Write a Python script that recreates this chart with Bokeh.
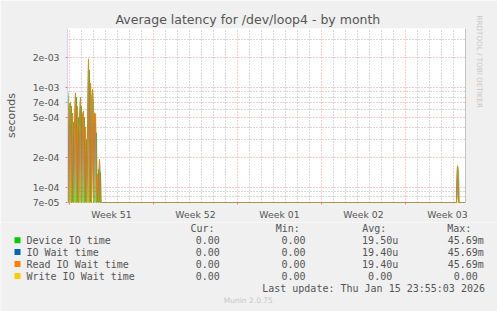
import math
import numpy as np
from bokeh.plotting import figure
from bokeh.layouts import column
from bokeh.models import (Range1d, FixedTicker, CustomJSTickFormatter, Span, Title,
                          ColumnDataSource)
from bokeh.core.properties import value
from bokeh.embed import file_html
from bokeh.resources import INLINE

# ---------------- data ----------------
# one sample every 2 hours; hour 0 = start of the "Week 51" grid line
sample_start_hour = -4
sample_step_hours = 2
sample_count = 399          # up to hour 792 (end of window)

# burst at the start of the window (hours -4 .. 64)
burst_start_hour = -4
burst_device = [9.3e-4, 8.0e-4, 0, 0, 6.5e-4, 0, 4.5e-4, 0, 0, 8.0e-4, 0, 5.0e-4, 0, 0,
                6.5e-4, 0, 0, 5.0e-4, 0, 3.0e-4, 0, 0, 1.5e-3, 0, 8.0e-4, 9.6e-4,
                7.0e-4, 0, 0, 3.5e-4, 0, 1.5e-4, 0, 1.4e-4, 0]
burst_iowait = [9.3e-4, 0, 6.5e-4, 7.0e-4, 0, 5.5e-4, 0, 3.5e-4, 8.8e-4, 0, 6.5e-4, 0,
                4.0e-4, 7.9e-4, 0, 5.0e-4, 5.8e-4, 0, 4.0e-4, 0, 2.5e-4, 1.93e-3, 0,
                1.1e-3, 0, 9.4e-4, 0, 5.5e-4, 5.4e-4, 0, 1.34e-4, 0, 1.9e-4, 0, 0]
burst_read = [9.3e-4, 0, 6.5e-4, 7.0e-4, 0, 5.5e-4, 0, 3.5e-4, 8.8e-4, 0, 6.5e-4, 0,
              4.0e-4, 7.9e-4, 0, 5.0e-4, 5.8e-4, 0, 4.0e-4, 0, 2.5e-4, 1.93e-3, 0,
              1.1e-3, 0, 9.4e-4, 0, 5.5e-4, 5.4e-4, 0, 1.34e-4, 0, 1.9e-4, 0, 0]

# small burst in week 03
late_start_hour = 776
late_device = [1.63e-4, 1.5e-4]
late_iowait = [1.63e-4, 0]
late_read = [1.63e-4, 0]

series_names = ["Device IO time", "IO Wait time", "Read IO Wait time", "Write IO Wait time"]
series_colors = ["#00CC00", "#0066B3", "#FF8000", "#FFCC00"]
cur_vals = ["0.00", "0.00", "0.00", "0.00"]
min_vals = ["0.00", "0.00", "0.00", "0.00"]
avg_vals = ["19.50u", "19.40u", "19.40u", "0.00"]
max_vals = ["45.69m", "45.69m", "45.69m", "0.00"]

week_labels = ["Week 51", "Week 52", "Week 01", "Week 02", "Week 03"]
week_starts = [0, 7, 14, 21, 28]        # days
y_major = [7e-5, 1e-4, 2e-4, 5e-4, 7e-4, 1e-3, 2e-3]
y_minor = [8e-5, 9e-5, 3e-4, 4e-4, 6e-4, 8e-4, 9e-4, 3e-3]

title_text = "Average latency for /dev/loop4 - by month"
last_update = "Last update: Thu Jan 15 23:55:03 2026"
munin_ver = "Munin 2.0.75"
side_text = "RRDTOOL / TOBI OETIKER"

# ---------------- build series ----------------
hours = sample_start_hour + sample_step_hours * np.arange(sample_count)
days = hours / 24.0

def build(burst, late):
    v = np.zeros(sample_count)
    i0 = (burst_start_hour - sample_start_hour) // sample_step_hours
    v[i0:i0 + len(burst)] = burst
    i1 = (late_start_hour - sample_start_hour) // sample_step_hours
    v[i1:i1 + len(late)] = late
    return v

device = build(burst_device, late_device)
iowait = build(burst_iowait, late_iowait)
read = build(burst_read, late_read)
write = np.zeros(sample_count)

XMIN, XMAX = days[0], days[-1]
YMIN, YMAX = 7e-5, 3.9e-3

FL, FR, FT, FB = 67, 465, 28, 202
TEXT = "#555555"

p = figure(width=497, height=222, x_range=Range1d(XMIN, XMAX), y_range=Range1d(YMIN, YMAX),
           y_axis_type="log", toolbar_location=None, output_backend="svg",
           min_border_left=FL, min_border_right=497 - FR, min_border_top=FT,
           min_border_bottom=222 - FB)
p.background_fill_color = "white"
p.border_fill_color = "#F0F0F0"
p.outline_line_color = None

# title above the frame
p.title.text = title_text
p.title.align = "left"
p.title.offset = 48
p.title.standoff = 3
p.title.text_font = "DejaVu Sans"
p.title.text_font_size = "12.5px"
p.title.text_font_style = "normal"
p.title.text_color = TEXT

# vertical credit text in the right margin
p.add_layout(Title(text=side_text, align="left", offset=-13, standoff=18,
                   text_font="DejaVu Sans", text_font_size="7.2px",
                   text_font_style="normal", text_color="#C8C8C8"), "right")

# grids
p.xgrid.ticker = FixedTicker(ticks=week_starts,
                             minor_ticks=[d for d in range(1, 33) if d % 7 != 0])
p.ygrid.ticker = FixedTicker(ticks=y_major, minor_ticks=y_minor)
for g in (p.xgrid, p.ygrid):
    g.grid_line_color = "#FF0000"
    g.grid_line_alpha = 0.4
    g.grid_line_dash = "1 2"
    g.minor_grid_line_color = "#B0B0B0"
    g.minor_grid_line_dash = "1 2"

# x axis
centers = [d + 3.5 for d in week_starts]
p.xaxis.ticker = FixedTicker(ticks=centers, minor_ticks=week_starts)
p.xaxis.major_label_overrides = {c: l for c, l in zip(centers, week_labels)}
p.xaxis.axis_line_color = None
p.xaxis.major_tick_line_color = None
p.xaxis.major_tick_out = 0
p.xaxis.major_tick_in = 0
p.xaxis.minor_tick_line_color = "#F08080"
p.xaxis.minor_tick_out = 2
p.xaxis.minor_tick_in = 0
p.xaxis.major_label_standoff = 4

# y axis
p.yaxis.ticker = FixedTicker(ticks=y_major, minor_ticks=[])
p.yaxis.formatter = CustomJSTickFormatter(code="""
const s = tick.toExponential(0).split('e');
let e = parseInt(s[1]);
const sign = e < 0 ? '-' : '+';
e = Math.abs(e);
return s[0] + 'e' + sign + (e < 10 ? '0' + e : '' + e);
""")
p.yaxis.axis_line_color = "#CFD6F8"
p.yaxis.major_tick_line_color = "#F08080"
p.yaxis.major_tick_out = 2
p.yaxis.major_tick_in = 0
p.yaxis.minor_tick_line_color = None
p.yaxis.major_label_standoff = 6
p.yaxis.axis_label = "seconds"
p.yaxis.axis_label_text_font = "DejaVu Sans"
p.yaxis.axis_label_text_font_size = "11px"
p.yaxis.axis_label_text_font_style = "normal"
p.yaxis.axis_label_text_color = TEXT
p.yaxis.axis_label_standoff = 12
for ax in (p.xaxis, p.yaxis):
    ax.major_label_text_font = "DejaVu Sans"
    ax.major_label_text_font_size = "9.3px"
    ax.major_label_text_color = TEXT

# lines (zero values rest on the bottom edge of the log axis)
src = ColumnDataSource(dict(
    x=days,
    device=np.maximum(device, YMIN),
    iowait=np.maximum(iowait, YMIN),
    read=np.maximum(read, YMIN),
    write=np.maximum(write, YMIN),
))
p.line("x", "write", source=src, line_color=series_colors[3], line_width=1)
p.line("x", "device", source=src, line_color=series_colors[0], line_width=1, line_alpha=0.6)
p.line("x", "iowait", source=src, line_color=series_colors[1], line_width=1)
p.line("x", "read", source=src, line_color=series_colors[2], line_width=1)

p.add_layout(Span(location=XMAX, dimension="height", line_color="#8A8A8A", line_width=1))

# ---------------- legend panel ----------------
q = figure(width=497, height=89, x_range=Range1d(0, 497), y_range=Range1d(311, 222),
           toolbar_location=None, output_backend="svg", min_border=0,
           x_axis_location=None, y_axis_location=None)
q.grid.visible = False
q.outline_line_color = None
q.background_fill_color = "#F0F0F0"
q.border_fill_color = "#F0F0F0"

tf = value("DejaVu Sans Mono")
row_y = [239.7, 251.6, 263.6, 275.6]
hdr_y = 228.3

q.rect(x=[17] * 4, y=row_y, width=6, height=6, fill_color=series_colors, line_color=None)
q.text(x=[26] * 4, y=row_y, text=series_names, text_font=tf, text_font_size="10px",
       text_color=TEXT, text_baseline="middle", text_align="left")
q.text(x=[190, 275.3, 361.7, 446.7], y=[hdr_y] * 4, text=["Cur:", "Min:", "Avg:", "Max:"],
       text_font=tf, text_font_size="10px", text_color=TEXT, text_baseline="middle",
       text_align="left")

def col_right(vals, right):
    return [right if v[-1].isalpha() else right - 6 for v in vals]

q.text(x=[219.3] * 4, y=row_y, text=cur_vals, text_font=tf, text_font_size="10px",
       text_color=TEXT, text_baseline="middle", text_align="right")
q.text(x=[305] * 4, y=row_y, text=min_vals, text_font=tf, text_font_size="10px",
       text_color=TEXT, text_baseline="middle", text_align="right")
q.text(x=col_right(avg_vals, 397.7), y=row_y, text=avg_vals, text_font=tf,
       text_font_size="10px", text_color=TEXT, text_baseline="middle", text_align="right")
q.text(x=col_right(max_vals, 483.3), y=row_y, text=max_vals, text_font=tf,
       text_font_size="10px", text_color=TEXT, text_baseline="middle", text_align="right")
q.text(x=[261.7], y=[287.7], text=[last_update], text_font=tf, text_font_size="10px",
       text_color=TEXT, text_baseline="middle", text_align="left")
q.text(x=[247.8], y=[300], text=[munin_ver], text_font=value("DejaVu Sans"),
       text_font_size="7.5px", text_color="#C8C8C8", text_baseline="middle",
       text_align="center")

layout = column(p, column(q, spacing=0), spacing=0)
open("out.html", "w").write(file_html(layout, INLINE))
